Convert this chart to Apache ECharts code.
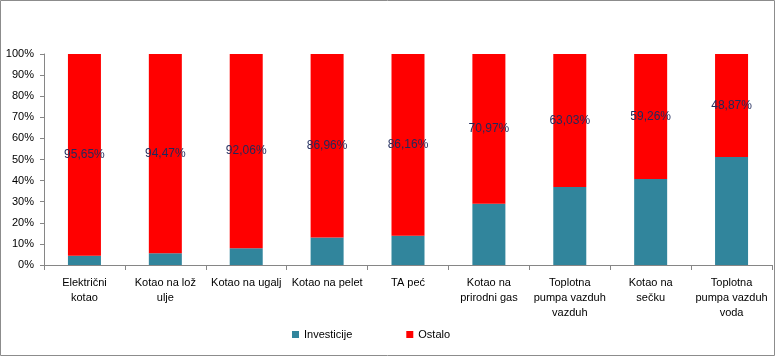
<!DOCTYPE html>
<html><head><meta charset="utf-8">
<script src="https://cdn.jsdelivr.net/npm/echarts@6/dist/echarts.min.js"></script>
<style>html,body{margin:0;padding:0;background:#fff}#c{width:780px;height:357px}</style>
</head><body><div id="c"></div>
<script>
const categories = ["Električni\nkotao","Kotao na lož\nulje","Kotao na ugalj","Kotao na pelet","TA peć","Kotao na\nprirodni gas","Toplotna\npumpa vazduh\nvazduh","Kotao na\nsečku","Toplotna\npumpa vazduh\nvoda"];
const ostalo = [95.65, 94.47, 92.06, 86.96, 86.16, 70.97, 63.03, 59.26, 48.87];
const investicije = [4.35, 5.53, 7.94, 13.04, 13.84, 29.03, 36.97, 40.74, 51.13];
const yTicks = [0,10,20,30,40,50,60,70,80,90,100];

const font = 'Liberation Sans';
const chart = echarts.init(document.getElementById('c'), null, {renderer:'canvas'});
chart.setOption({
  animation:false,
  textStyle:{fontFamily:font},
  graphic:[{type:'rect',shape:{x:0.5,y:0.5,width:774,height:355},style:{fill:'none',stroke:'#8c8c8c',lineWidth:1},silent:true}],
  grid:{left:44,right:8,top:54,bottom:92,containLabel:false},
  legend:{bottom:12,left:287,itemWidth:7,itemHeight:7,itemGap:54,icon:'rect',
    textStyle:{fontFamily:font,fontSize:11,color:'#000'},data:['Investicije','Ostalo']},
  xAxis:{type:'category',data:categories,
    axisLine:{lineStyle:{color:'#868686'}},
    axisTick:{show:true,alignWithLabel:false,length:5,lineStyle:{color:'#868686'}},
    axisLabel:{interval:0,color:'#000',fontSize:11,lineHeight:15,margin:10,fontFamily:font}},
  yAxis:{type:'value',min:0,max:100,interval:10,
    axisLine:{show:true,lineStyle:{color:'#868686'}},
    axisTick:{show:true,length:4,lineStyle:{color:'#868686'}},
    splitLine:{show:false},
    axisLabel:{color:'#000',fontSize:11,margin:10,fontFamily:font,formatter:v=>yTicks.includes(v)?v+'%':''}},
  series:[
    {name:'Investicije',type:'bar',stack:'a',barWidth:33,data:investicije,itemStyle:{color:'#31859C'}},
    {name:'Ostalo',type:'bar',stack:'a',barWidth:33,data:ostalo,itemStyle:{color:'#FF0000'},
      label:{show:true,position:'inside',color:'#1F2A5C',fontSize:12,fontFamily:font,
        formatter:p=>p.value.toFixed(2).replace('.',',')+'%'}}
  ]
});
</script></body></html>
